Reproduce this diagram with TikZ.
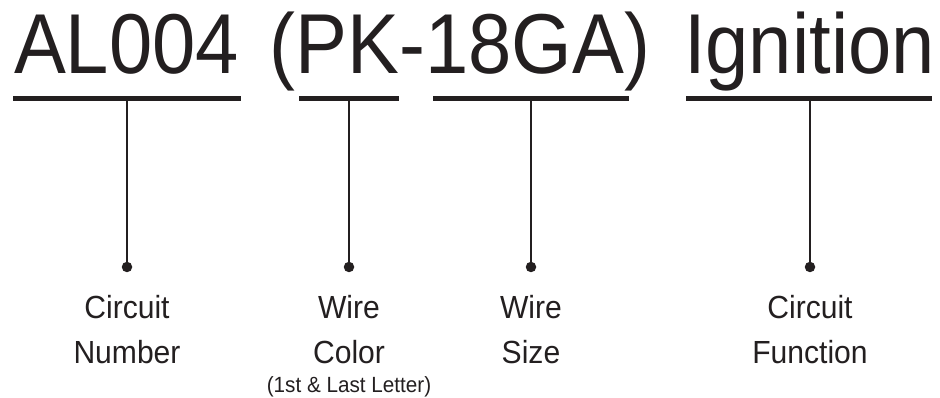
\documentclass[tikz,border=0pt]{standalone}
\usepackage{fontspec}
\setmainfont[FakeStretch=0.94]{Liberation Sans}
\newfontfamily\codefont[FakeStretch=0.915]{Liberation Sans}
\usetikzlibrary{positioning}
\definecolor{inkblk}{RGB}{35,31,32}

\begin{document}
\begin{tikzpicture}[x=1pt,y=-1pt,line cap=butt,color=inkblk,
  bigtxt/.style={inner sep=0pt,anchor=base,font=\codefont\fontsize{85}{85}\selectfont},
  lbl/.style={inner sep=0pt,anchor=base,font=\fontsize{32}{44}\selectfont},
  note/.style={inner sep=0pt,anchor=base,font=\fontsize{22}{22}\selectfont},
  bar/.style={line width=5pt},
  stem/.style={line width=2.2pt},
  pin/.style={circle,fill=inkblk,inner sep=0pt,minimum size=10.5pt}]
\useasboundingbox (0,0) rectangle (940,398);
% code string
\node[bigtxt] (num) at (126.5,74) {AL004};
\node[bigtxt] (col) at (460,74) {(PK-18GA)};
\node[bigtxt] (fun) at (809.5,74) {Ignition};
% underlines
\draw[bar] (13,99) -- (241,99);
\draw[bar] (299,99) -- (399,99);
\draw[bar] (433,99) -- (629,99);
\draw[bar] (686,99) -- (932,99);
\coordinate (t1) at (127,99);
\coordinate (t2) at (349,99);
\coordinate (t3) at (531,99);
\coordinate (t4) at (810,99);
% pins
\node[pin] (p1) at (127,267) {};
\node[pin] (p2) at (349,267) {};
\node[pin] (p3) at (531,267) {};
\node[pin] (p4) at (810,267) {};
\draw[stem] (t1) -- (p1.center);
\draw[stem] (t2) -- (p2.center);
\draw[stem] (t3) -- (p3.center);
\draw[stem] (t4) -- (p4.center);
% labels
\node[lbl] (l1a) at (127,318) {Circuit};
\node[lbl] (l1b) at (127,363) {Number};
\node[lbl] (l2a) at (349,318) {Wire};
\node[lbl] (l2b) at (349,363) {Color};
\node[note] (l2c) at (349,392) {(1st \& Last Letter)};
\node[lbl] (l3a) at (531,318) {Wire};
\node[lbl] (l3b) at (531,363) {Size};
\node[lbl] (l4a) at (810,318) {Circuit};
\node[lbl] (l4b) at (810,363) {Function};
\end{tikzpicture}
\end{document}
